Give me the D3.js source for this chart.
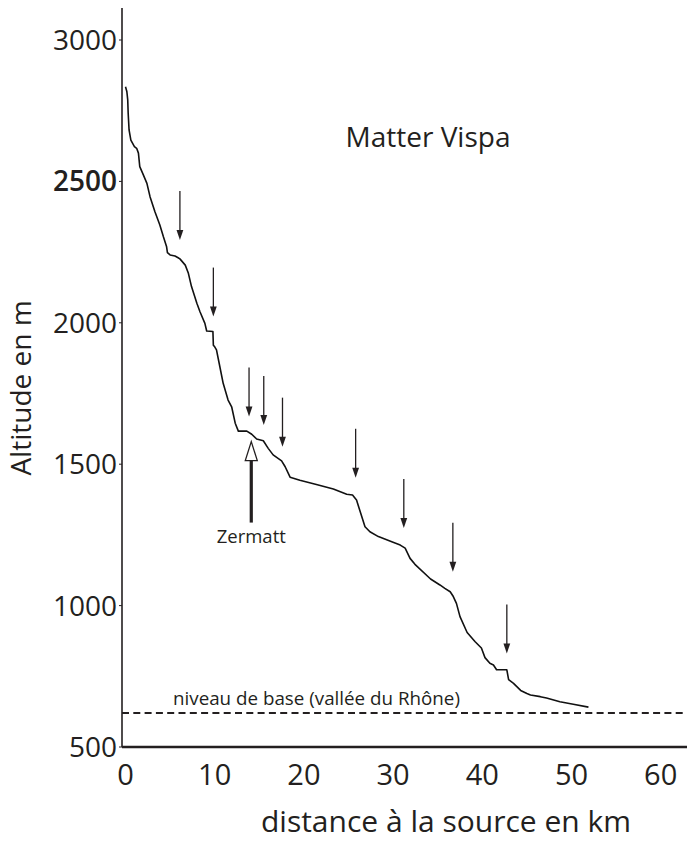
<!DOCTYPE html>
<html>
<head>
<meta charset="utf-8">
<script src="https://cdn.jsdelivr.net/npm/d3@7"></script>
<style>
  html, body { margin: 0; padding: 0; background: #fff; }
  svg { display: block; }
  text { font-family: "Open Sans", "Noto Sans", sans-serif; fill: #231f20; }
</style>
</head>
<body>
<script>
// Longitudinal profile of the Matter Vispa: distance from source (km) vs altitude (m)
const profileKm = [
  0.0, 0.15, 0.25, 0.3, 0.4, 0.6, 1.0, 1.25, 1.45, 1.6, 2.0, 2.4, 2.75, 3.3, 3.85,
  4.25, 4.6, 4.7, 5.0, 5.55, 5.9, 6.1, 6.7, 7.05, 7.4, 8.0, 8.35, 8.9, 9.1, 9.8,
  9.85, 10.0, 10.2, 10.5, 10.95, 11.5, 11.9, 12.3, 12.65, 13.6, 14.15, 14.7, 15.45,
  16.0, 16.55, 17.5, 17.9, 18.45, 19.55, 21.4, 23.3, 24.8, 25.45, 25.9, 26.85, 27.4,
  28.35, 29.85, 30.8, 31.35, 31.9, 32.45, 34.2, 35.25, 35.8, 36.4, 36.75, 37.1, 37.5,
  38.3, 39.2, 39.9, 40.3, 40.85, 41.25, 41.6, 42.75, 42.95, 43.5, 44.3, 45.0, 45.4,
  46.5, 47.2, 48.7, 50.2, 51.9
];
const profileAlt = [
  2835, 2818, 2788, 2741, 2682, 2646, 2623, 2617, 2600, 2552, 2523, 2493, 2446, 2393, 2346,
  2304, 2270, 2248, 2240, 2236, 2230, 2226, 2204, 2175, 2128, 2069, 2039, 1998, 1971, 1969,
  1921, 1915, 1904, 1857, 1786, 1727, 1703, 1645, 1617, 1617, 1606, 1589, 1583,
  1556, 1533, 1512, 1491, 1454, 1443, 1428, 1412, 1394, 1391, 1373, 1279, 1261,
  1244, 1226, 1214, 1203, 1167, 1146, 1094, 1073, 1061, 1049, 1032, 1008, 961,
  905, 872, 850, 816, 796, 790, 773, 773, 738, 725, 700, 689, 684,
  678, 673, 660, 651, 641
];

// Knickpoints marked by downward arrows (km, altitude of arrow tip)
const knickKm  = [6.1, 9.85, 13.85, 15.5, 17.6, 25.8, 31.2, 36.7, 42.75];
const knickAlt = [2293, 2022, 1669, 1639, 1562, 1452, 1274, 1120, 831];

// Zermatt marker
const zermattKm = 14.1;
const zermattAlt = 1580;
const zermattLabel = "Zermatt";

// Base level (Rhône valley)
const baseLevel = 620;
const baseLabel = "niveau de base (vallée du Rhône)";

const xTicks = [0, 10, 20, 30, 40, 50, 60];
const yTicks = [500, 1000, 1500, 2000, 2500, 3000];
const title = "Matter Vispa";
const xTitle = "distance à la source en km";
const yTitle = "Altitude en m";

const W = 687, H = 841;
const svg = d3.select("body").append("svg").attr("width", W).attr("height", H);
svg.append("rect").attr("width", W).attr("height", H).attr("fill", "#fff");

const x = d3.scaleLinear().domain([0, 60]).range([125.5, 660.7]);
const y = d3.scaleLinear().domain([500, 3000]).range([747, 40]);

const ink = "#231f20";

// axes frame
const xMin = x.invert(122), xMax = x.invert(687);
const yTop = y.invert(8);
svg.append("line")
  .attr("x1", x(xMin)).attr("x2", x(xMin))
  .attr("y1", y(yTop)).attr("y2", y(500))
  .attr("stroke", ink).attr("stroke-width", 1.6);
svg.append("line")
  .attr("x1", x(xMin)).attr("x2", x(xMax))
  .attr("y1", y(500)).attr("y2", y(500))
  .attr("stroke", ink).attr("stroke-width", 2.4);

// y ticks and labels
const yg = svg.append("g");
yg.selectAll("line").data(yTicks).join("line")
  .attr("x1", x(xMin) - 3).attr("x2", x(xMin))
  .attr("y1", d => y(d)).attr("y2", d => y(d))
  .attr("stroke", ink).attr("stroke-width", 1);
yg.selectAll("text").data(yTicks).join("text")
  .attr("x", x(xMin) - 5).attr("y", d => y(d))
  .attr("dy", "0.36em")
  .attr("text-anchor", "end")
  .attr("font-size", 28)
  .attr("font-weight", d => d === 2500 ? 600 : 400)
  .text(d => d);

// x tick labels
svg.append("g").selectAll("text").data(xTicks).join("text")
  .attr("x", d => x(d)).attr("y", 785)
  .attr("text-anchor", "middle")
  .attr("font-size", 29)
  .text(d => d);

// axis titles
svg.append("text")
  .attr("x", 446).attr("y", 832)
  .attr("text-anchor", "middle")
  .attr("font-size", 30)
  .text(xTitle);
svg.append("text")
  .attr("transform", "translate(31,388) rotate(-90)")
  .attr("text-anchor", "middle")
  .attr("font-size", 28)
  .text(yTitle);

// chart title
svg.append("text")
  .attr("x", 428).attr("y", 147)
  .attr("text-anchor", "middle")
  .attr("font-size", 28)
  .text(title);

// base level dashed line
svg.append("line")
  .attr("x1", x(xMin)).attr("x2", x(xMax))
  .attr("y1", y(baseLevel)).attr("y2", y(baseLevel))
  .attr("stroke", ink).attr("stroke-width", 2.1)
  .attr("stroke-dasharray", "7,4.3");
svg.append("text")
  .attr("x", 173).attr("y", y(baseLevel) - 8)
  .attr("font-size", 18.8)
  .text(baseLabel);

// river profile
const profile = profileKm.map((k, i) => [k, profileAlt[i]]);
svg.append("path")
  .datum(profile)
  .attr("d", d3.line().x(d => x(d[0])).y(d => y(d[1])))
  .attr("fill", "none")
  .attr("stroke", "#111")
  .attr("stroke-width", 1.6)
  .attr("stroke-linejoin", "round");

// knickpoint arrows
const arrowLen = 49, headLen = 10, headHalf = 3.4;
const ag = svg.append("g");
knickKm.forEach((k, i) => {
  const ax = x(k), ty = y(knickAlt[i]);
  ag.append("line")
    .attr("x1", ax).attr("x2", ax)
    .attr("y1", ty - arrowLen).attr("y2", ty - headLen + 1)
    .attr("stroke", ink).attr("stroke-width", 1.3);
  ag.append("path")
    .attr("d", `M${ax},${ty} L${ax - headHalf},${ty - headLen} L${ax + headHalf},${ty - headLen} Z`)
    .attr("fill", ink);
});

// Zermatt hollow arrow
{
  const zx = x(zermattKm), zy = y(zermattAlt);
  const zHead = 19, zHalf = 6;
  svg.append("line")
    .attr("x1", zx).attr("x2", zx)
    .attr("y1", zy + zHead).attr("y2", zy + 81)
    .attr("stroke", ink).attr("stroke-width", 3.2);
  svg.append("path")
    .attr("d", `M${zx},${zy} L${zx - zHalf},${zy + zHead} L${zx + zHalf},${zy + zHead} Z`)
    .attr("fill", "#fff").attr("stroke", ink).attr("stroke-width", 1.3)
    .attr("stroke-linejoin", "miter");
  svg.append("text")
    .attr("x", zx).attr("y", zy + 101)
    .attr("text-anchor", "middle")
    .attr("font-size", 18.5)
    .text(zermattLabel);
}
</script>
</body>
</html>
